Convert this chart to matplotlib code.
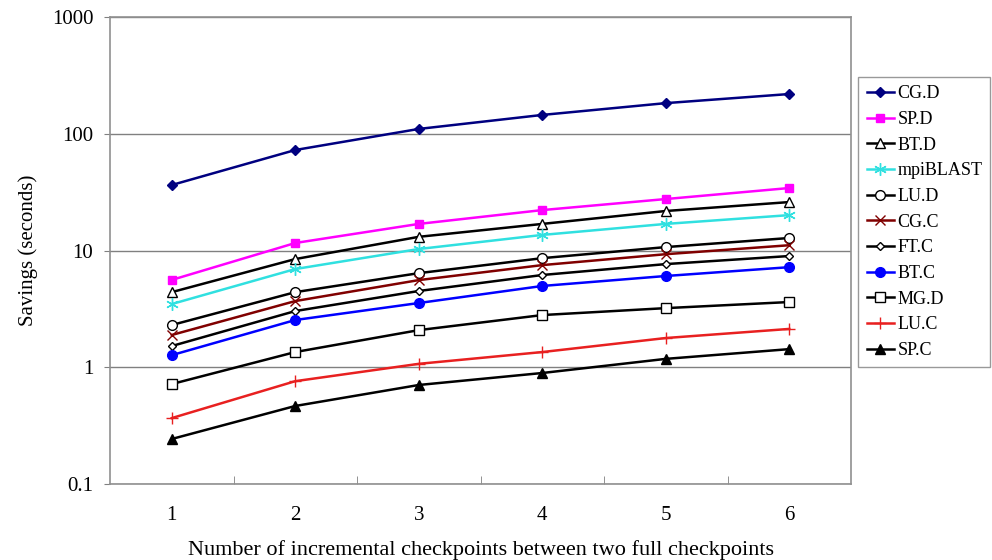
import numpy as np
import matplotlib.pyplot as plt

plt.rcParams["font.family"] = ["Liberation Serif", "DejaVu Serif"]

x = [1, 2, 3, 4, 5, 6]
names = ["CG.D", "SP.D", "BT.D", "mpiBLAST", "LU.D", "CG.C", "FT.C",
         "BT.C", "MG.D", "LU.C", "SP.C"]
cg_d = [36.4, 72.6, 110, 145, 183, 219]
sp_d = [5.6, 11.6, 16.9, 22.2, 27.6, 34.3]
bt_d = [4.4, 8.45, 13.1, 16.9, 21.8, 26.0]
mpiblast = [3.48, 6.94, 10.3, 13.6, 16.9, 20.1]
lu_d = [2.30, 4.4, 6.4, 8.6, 10.7, 12.8]
cg_c = [1.89, 3.69, 5.58, 7.5, 9.3, 11.1]
ft_c = [1.52, 3.03, 4.5, 6.17, 7.65, 8.97]
bt_c = [1.27, 2.54, 3.55, 4.97, 6.05, 7.2]
mg_d = [0.718, 1.35, 2.08, 2.80, 3.21, 3.62]
lu_c = [0.367, 0.76, 1.07, 1.35, 1.78, 2.13]
sp_c = [0.243, 0.466, 0.705, 0.893, 1.18, 1.43]
series = [cg_d, sp_d, bt_d, mpiblast, lu_d, cg_c, ft_c, bt_c, mg_d, lu_c, sp_c]

# colour, marker, size, filled
styles = [
    ("#000080", "D", 5, True),
    ("#FF00FF", "s", 6, True),
    ("black", "^", 7, False),
    ("#30E0E0", (6, 2, 0), 9, True),
    ("black", "o", 7, False),
    ("#800000", "x", 7, True),
    ("black", "D", 4.5, False),
    ("#0000FF", "o", 7, True),
    ("black", "s", 7, False),
    ("#E82020", "+", 9, True),
    ("black", "^", 7, True),
]

fig = plt.figure(figsize=(9.92, 5.6), dpi=100)
ax = fig.add_axes([0.1109, 0.1357, 0.7470, 0.8339])

for name, ys, (c, m, ms, filled) in zip(names, series, styles):
    ax.plot(x, ys, color=c, lw=1.8, marker=m, ms=ms,
            mfc=c if filled else "white", mec=c, mew=1.0, label=name)

ax.set_yscale("log")
ax.set_ylim(0.1, 1000)
ax.set_xlim(0.5, 6.5)
ax.set_yticks([0.1, 1, 10, 100, 1000])
ax.set_yticklabels(["0.1", "1", "10", "100", "1000"])
ax.minorticks_off()
ax.yaxis.grid(True, color="#808080", lw=1.0)
ax.set_axisbelow(True)

ax.set_xticks(x)
ax.set_xticklabels([str(v) for v in x])
ax.tick_params(axis="x", length=0, pad=16, labelsize=15)
ax.set_xticks(np.arange(1.5, 6.5, 1), minor=True)
ax.tick_params(axis="x", which="minor", direction="in", length=6, color="#808080")
ax.tick_params(axis="y", length=4, color="#808080", labelsize=15, pad=8)

for s in ax.spines.values():
    s.set_color("#909090")
    s.set_linewidth(1.2)

ax.set_ylabel("Savings (seconds)", fontsize=15, labelpad=10)
ax.set_xlabel("Number of incremental checkpoints between two full checkpoints",
              fontsize=16, labelpad=11)

leg = ax.legend(loc="upper left", bbox_to_anchor=(1.01, 0.871), fontsize=13,
                frameon=True, fancybox=False, edgecolor="#808080",
                borderaxespad=0, handlelength=1.5, labelspacing=0.48,
                handletextpad=0.2, borderpad=0.45)
leg.get_frame().set_linewidth(1.0)

fig.savefig("out.png", dpi=100)
